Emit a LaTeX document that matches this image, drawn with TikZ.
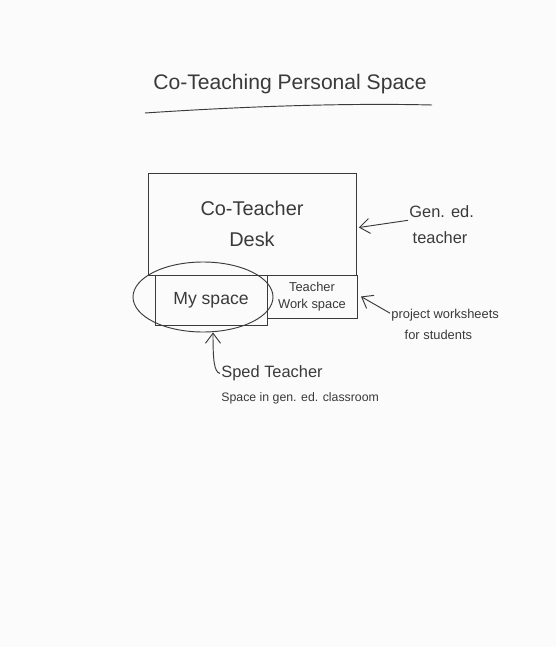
\documentclass[tikz,border=0pt]{standalone}
\usepackage{fontspec}
\setmainfont{Liberation Sans}
\usetikzlibrary{shapes.geometric,arrows.meta}
\definecolor{ink}{HTML}{3A3A3A}
\definecolor{paper}{HTML}{FBFBFB}

\tikzstyle{box}=[rectangle, draw=ink, line width=0.8pt, text=ink, inner sep=0pt]
\tikzstyle{note}=[text=ink, align=left, inner sep=1pt]
\tikzstyle{pointer}=[draw=ink, line width=0.8pt, -{Straight Barb[length=3mm,width=4.5mm]}]

\begin{document}
\begin{tikzpicture}[x=0.03cm, y=-0.03cm]
\fill[paper] (0,0) rectangle (556,647);

\node[note, font=\fontsize{18}{22}\selectfont](title) at (290, 84) {Co-Teaching Personal Space};
\draw[ink, line width=0.8pt] (145,113) .. controls (250,106) and (350,103) .. (432,105);

\node[box, minimum width=6.24cm, minimum height=3.06cm, align=center, font=\fontsize{17}{26}\selectfont](desk) at (252, 224) {\rule{0pt}{12pt}Co-Teacher\\Desk};
\node[box, minimum width=3.36cm, minimum height=1.5cm, font=\fontsize{15}{18}\selectfont](myspace) at (211, 300) {My space};
\node[box, minimum width=2.7cm, minimum height=1.29cm, align=center, font=\fontsize{11}{14}\selectfont](workspace) at (312, 296.5) {Teacher\\Work space};
\node[ellipse, draw=ink, line width=0.8pt, minimum width=4.2cm, minimum height=2.1cm](ring) at (203, 297) {};

\node[note, anchor=west, font=\fontsize{14}{22}\selectfont](gen) at (408, 225) {Gen. ed.\\\hspace*{1mm}teacher};
\node[note, anchor=west, font=\fontsize{11}{18}\selectfont](proj) at (390, 324) {project worksheets\\\hspace*{4mm}for students};
\node[note, anchor=north west](sped) at (220, 364) {{\fontsize{14}{22}\selectfont Sped Teacher}\\[9pt]{\fontsize{10.5}{14}\selectfont Space in gen. ed. classroom}};

\begin{scope}[every path/.style={pointer}]
       \draw ([yshift=4pt]gen.west) -- ([xshift=2pt,yshift=-3pt]desk.east);
       \draw ([yshift=-5pt]proj.north west) -- ([xshift=3pt]workspace.east);
       \draw ([yshift=-8pt]sped.north west) .. controls (214,372) and (213,360) .. ([xshift=0.3cm]ring.south);
\end{scope}
\end{tikzpicture}
\end{document}
